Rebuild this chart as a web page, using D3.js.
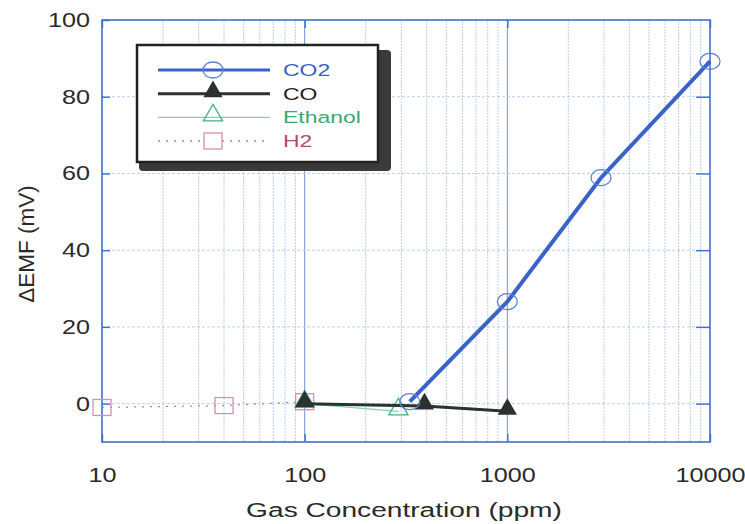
<!DOCTYPE html>
<html>
<head>
<meta charset="utf-8">
<script src="https://d3js.org/d3.v7.min.js"></script>
<style>
  body { margin: 0; background: #fff; }
  svg { font-family: "Liberation Sans", Arial, sans-serif; }
</style>
</head>
<body>
<div id="chart"></div>
<script>
// data
var co2X = [330, 1000, 2900, 10000];
var co2Y = [0.5, 26.6, 58.9, 89.2];
var coX = [100, 390, 1000];
var coY = [0, -0.6, -2];
var ethX = [100, 290];
var ethY = [0, -2];
var h2X = [10, 40, 100];
var h2Y = [-1, -0.5, 0.5];
var xTicks = [10, 100, 1000, 10000];
var yTicks = [0, 20, 40, 60, 80, 100];
var seriesNames = ['CO2', 'CO', 'Ethanol', 'H2'];

var W = 745, H = 524;
var m = {l: 102, r: 35, t: 20, b: 82};

var svg = d3.select('#chart').append('svg').attr('width', W).attr('height', H);

var x = d3.scaleLog().domain([10, 10000]).range([m.l, W - m.r]);
var y = d3.scaleLinear().domain([-10, 100]).range([H - m.b, m.t]);

var gridCol = '#a9c4ea';
var txtCol = '#2a2a2a';

// text in the scan is wider than it is tall: scale it around its anchor x
function stretch(sel, k) {
  sel.each(function() {
    var x0 = +d3.select(this).attr('x') || 0;
    d3.select(this).attr('transform', 'translate(' + x0 + ',0) scale(' + k + ',1) translate(' + (-x0) + ',0)');
  });
}

// minor vertical grid
var minors = [];
[10, 100, 1000].forEach(function(d) {
  for (var k = 2; k <= 9; k++) minors.push(d * k);
});
svg.append('g').selectAll('line').data(minors).enter().append('line')
  .attr('x1', function(d) { return x(d); }).attr('x2', function(d) { return x(d); })
  .attr('y1', y(100)).attr('y2', y(-10))
  .attr('stroke', gridCol).attr('stroke-width', 0.8).attr('stroke-dasharray', '2,1');

// decade lines
svg.append('g').selectAll('line').data([100, 1000]).enter().append('line')
  .attr('x1', function(d) { return x(d); }).attr('x2', function(d) { return x(d); })
  .attr('y1', y(100)).attr('y2', y(-10))
  .attr('stroke', '#6f95d8').attr('stroke-width', 1);

// horizontal grid
svg.append('g').selectAll('line').data([0, 20, 40, 60, 80]).enter().append('line')
  .attr('x1', x(10)).attr('x2', x(10000))
  .attr('y1', function(d) { return y(d); }).attr('y2', function(d) { return y(d); })
  .attr('stroke', gridCol).attr('stroke-width', 0.8).attr('stroke-dasharray', '3,2');

// frame
svg.append('rect').attr('x', x(10)).attr('y', y(100))
  .attr('width', x(10000) - x(10)).attr('height', y(-10) - y(100))
  .attr('fill', 'none').attr('stroke', '#3f6fd0').attr('stroke-width', 1.6);

// inward ticks via axes
var yAxL = d3.axisLeft(y).tickValues(yTicks).tickSize(-8).tickFormat(d3.format('d')).tickPadding(12);
var gL = svg.append('g').attr('transform', 'translate(' + m.l + ',0)').call(yAxL);
var yAxR = d3.axisRight(y).tickValues([0, 20, 40, 60, 80]).tickSize(-14).tickFormat('');
var gR = svg.append('g').attr('transform', 'translate(' + (W - m.r) + ',0)').call(yAxR);
var xAx = d3.axisBottom(x).tickValues(xTicks).tickSize(-8).tickFormat(d3.format('d')).tickPadding(26);
var gB = svg.append('g').attr('transform', 'translate(0,' + (H - m.b) + ')').call(xAx);
var xAxT = d3.axisTop(x).tickValues(xTicks).tickSize(-8).tickFormat('');
var gT = svg.append('g').attr('transform', 'translate(0,' + m.t + ')').call(xAxT);
[gL, gR, gB, gT].forEach(function(g) {
  g.select('.domain').remove();
  g.selectAll('line').attr('stroke', '#3f6fd0').attr('stroke-width', 1.4);
  g.selectAll('text').attr('font-size', 20).attr('fill', txtCol)
    .attr('font-family', '"Liberation Sans", Arial, sans-serif');
});
stretch(gL.selectAll('text'), 1.26);
stretch(gB.selectAll('text'), 1.26);

// axis titles
var xt = svg.append('text').attr('x', 404).attr('y', 517)
  .attr('text-anchor', 'middle').attr('font-size', 21).attr('fill', txtCol)
  .text('Gas Concentration (ppm)');
stretch(xt, 1.34);
svg.append('text').attr('transform', 'translate(34,244) rotate(-90)')
  .attr('text-anchor', 'middle').attr('font-size', 22.5).attr('fill', txtCol)
  .text('ΔEMF (mV)');

var line = d3.line().x(function(d) { return x(d[0]); }).y(function(d) { return y(d[1]); });
function pts(xs, ys) { return xs.map(function(v, i) { return [v, ys[i]]; }); }

var co2 = pts(co2X, co2Y), co = pts(coX, coY), eth = pts(ethX, ethY), h2 = pts(h2X, h2Y);

var tri = d3.symbol().type(d3.symbolTriangle).size(160);

// H2
svg.append('path').attr('d', line(h2)).attr('fill', 'none')
  .attr('stroke', '#9a8fa8').attr('stroke-width', 1.3).attr('stroke-dasharray', '2,6');
svg.append('g').selectAll('rect').data(h2).enter().append('rect')
  .attr('x', function(d) { return x(d[0]) - 9; }).attr('y', function(d) { return y(d[1]) - 8; })
  .attr('width', 18).attr('height', 16).attr('fill', 'none')
  .attr('stroke', '#d48fb4').attr('stroke-width', 1.3);

// Ethanol
svg.append('path').attr('d', line(eth)).attr('fill', 'none')
  .attr('stroke', '#7fd0c0').attr('stroke-width', 1.2);
svg.append('g').selectAll('path').data(eth).enter().append('path')
  .attr('d', tri).attr('transform', function(d) { return 'translate(' + x(d[0]) + ',' + (y(d[1]) - 2) + ')'; })
  .attr('fill', 'none').attr('stroke', '#3cb47c').attr('stroke-width', 1.3);

// CO
svg.append('path').attr('d', line(co)).attr('fill', 'none')
  .attr('stroke', '#2a3330').attr('stroke-width', 3);
svg.append('g').selectAll('path').data(co).enter().append('path')
  .attr('d', tri).attr('transform', function(d) { return 'translate(' + x(d[0]) + ',' + (y(d[1]) - 2) + ')'; })
  .attr('fill', '#2b312f');

// CO2
svg.append('path').attr('d', line(co2)).attr('fill', 'none')
  .attr('stroke', '#3a62c8').attr('stroke-width', 4);
svg.append('g').selectAll('ellipse').data(co2).enter().append('ellipse')
  .attr('cx', function(d) { return x(d[0]); }).attr('cy', function(d) { return y(d[1]); })
  .attr('rx', 10).attr('ry', 8).attr('fill', 'none')
  .attr('stroke', '#5a82d8').attr('stroke-width', 1.3);

// legend
var lg = svg.append('g');
lg.append('rect').attr('x', 139).attr('y', 50).attr('width', 252).attr('height', 121)
  .attr('rx', 4).attr('fill', '#3a3a3a');
lg.append('rect').attr('x', 137).attr('y', 45).attr('width', 241).attr('height', 117)
  .attr('fill', '#fff').attr('stroke', '#222').attr('stroke-width', 2.5);

var lgCols = ['#3a62c8', '#2a3330', '#7fd0c0', '#9a8fa8'];
var lgText = ['#3a5fc0', '#222', '#3aa873', '#b0487e'];
var lgW = [3, 3, 1.2, 1.3];
var lgDash = [null, null, null, '2,6'];
var rowY = d3.scalePoint().domain(seriesNames).range([70, 141]);
seriesNames.forEach(function(n, i) {
  var yy = rowY(n);
  lg.append('line').attr('x1', 158).attr('x2', 270).attr('y1', yy).attr('y2', yy)
    .attr('stroke', lgCols[i]).attr('stroke-width', lgW[i]).attr('stroke-dasharray', lgDash[i]);
  if (i === 0) {
    lg.append('ellipse').attr('cx', 213).attr('cy', yy).attr('rx', 10).attr('ry', 8)
      .attr('fill', 'none').attr('stroke', '#5a82d8').attr('stroke-width', 1.3);
  } else if (i === 1) {
    lg.append('path').attr('d', tri).attr('transform', 'translate(213,' + (yy - 2) + ')').attr('fill', '#2b312f');
  } else if (i === 2) {
    lg.append('path').attr('d', tri).attr('transform', 'translate(213,' + (yy - 2) + ')')
      .attr('fill', 'none').attr('stroke', '#3cb47c').attr('stroke-width', 1.3);
  } else {
    lg.append('rect').attr('x', 204).attr('y', yy - 8).attr('width', 18).attr('height', 16)
      .attr('fill', '#fff').attr('stroke', '#d48fb4').attr('stroke-width', 1.3);
  }
  var t = lg.append('text').attr('x', 283).attr('y', yy + 6).attr('font-size', 17)
    .attr('fill', lgText[i]).text(n);
  stretch(t, 1.35);
});
</script>
</body>
</html>
